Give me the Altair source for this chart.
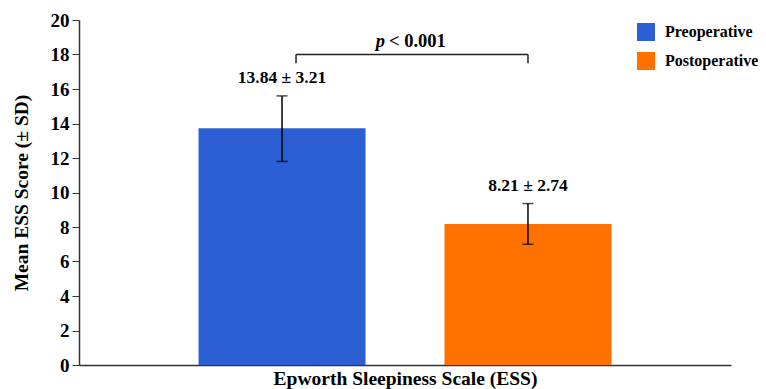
import altair as alt
import pandas as pd

groups = ["Preoperative", "Postoperative"]
colors = ["#2c5fd3", "#ff7100"]
means = [13.72, 8.17]
err_lo = [11.8, 7.0]
err_hi = [15.6, 9.36]
labels = ["13.84 ± 3.21", "8.21 ± 2.74"]
y_ticks = list(range(0, 21, 2))
bracket_top = 18.0
bracket_foot = 17.5
p_label_y = 18.45

FONT = "Liberation Serif"

df = pd.DataFrame({"group": groups, "mean": means, "lo": err_lo, "hi": err_hi, "label": labels})

x_axis = alt.Axis(title="Epworth Sleepiness Scale (ESS)", labels=False, ticks=False,
                  domainColor="#333333", domainWidth=1.5, titleFont=FONT,
                  titleFontSize=19.5, titleFontWeight="bold", titleColor="black",
                  titlePadding=4)
x_scale = alt.Scale(domain=groups, paddingInner=0.321, paddingOuter=0.486)
y_axis = alt.Axis(title="Mean ESS Score (± SD)", values=y_ticks, tickCount=11,
                  labelOverlap=False, tickSize=7,
                  tickColor="#333333", domainColor="#333333", domainWidth=1.5,
                  grid=False, labelFont=FONT, labelFontSize=19, labelFontWeight="bold",
                  labelColor="black", labelPadding=3, titleFont=FONT, titleFontSize=19.5,
                  titleFontWeight="bold", titleColor="black", titlePadding=19)
y_scale = alt.Scale(domain=[0, 20], nice=False)


def X(field):
    return alt.X(field, sort=groups, scale=x_scale, axis=x_axis)


def Y(field):
    return alt.Y(field, scale=y_scale, axis=y_axis)


bars = alt.Chart(df).mark_bar().encode(
    x=X("group:N"),
    y=Y("mean:Q"),
    color=alt.Color("group:N", sort=groups,
                    scale=alt.Scale(domain=groups, range=colors),
                    legend=alt.Legend(title=None, orient="none", legendX=558, legendY=3,
                                      symbolType="square", symbolSize=324, symbolStrokeWidth=0,
                                      symbolOpacity=1, labelFont=FONT, labelFontSize=16,
                                      labelFontWeight="bold", labelColor="black",
                                      labelOffset=10, rowPadding=11, labelLimit=200)),
)

err_rule = alt.Chart(df).mark_rule(color="black", strokeWidth=1.5).encode(
    x=X("group:N"), y=Y("lo:Q"), y2="hi:Q")
cap_lo = alt.Chart(df).mark_tick(color="black", thickness=1.5, size=11, orient="horizontal").encode(
    x=X("group:N"), y=Y("lo:Q"))
cap_hi = alt.Chart(df).mark_tick(color="black", thickness=1.5, size=11, orient="horizontal").encode(
    x=X("group:N"), y=Y("hi:Q"))
val_text = alt.Chart(df).mark_text(font=FONT, fontSize=17.5, fontWeight="bold", color="black",
                                   dy=-18, baseline="middle").encode(
    x=X("group:N"), y=Y("hi:Q"), text="label:N")

bdf = pd.DataFrame({"a": [groups[0]], "b": [groups[1]], "top": [bracket_top], "foot": [bracket_foot],
                    "py": [p_label_y]})
b_h = alt.Chart(bdf).mark_rule(color="#222222", strokeWidth=1.5, xOffset=14).encode(
    x=X("a:N"), x2="b:N", y=Y("top:Q"))
b_l = alt.Chart(bdf).mark_rule(color="#222222", strokeWidth=1.5, xOffset=14).encode(
    x=X("a:N"), y=Y("foot:Q"), y2="top:Q")
b_r = alt.Chart(bdf).mark_rule(color="#222222", strokeWidth=1.5).encode(
    x=X("b:N"), y=Y("foot:Q"), y2="top:Q")
p_it = alt.Chart(bdf).mark_text(font=FONT, fontSize=18.5, fontStyle="italic", fontWeight="bold",
                                color="black", align="right", baseline="alphabetic",
                                xOffset=103).encode(
    x=X("a:N"), y=Y("py:Q"), text=alt.value("p"))
p_rest = alt.Chart(bdf).mark_text(font=FONT, fontSize=18.5, fontWeight="bold",
                                  color="black", align="left", baseline="alphabetic",
                                  xOffset=107).encode(
    x=X("a:N"), y=Y("py:Q"), text=alt.value("< 0.001"))

chart = alt.layer(bars, err_rule, cap_lo, cap_hi, val_text, b_h, b_l, b_r, p_it, p_rest).properties(
    width=652, height=345,
    autosize=alt.AutoSizeParams(type="none"),
    padding={"left": 71, "top": 12, "right": 27, "bottom": 26},
    background="white",
).configure_view(stroke=None)

chart.save("out.html", embed_options={"renderer": "svg", "actions": False})
